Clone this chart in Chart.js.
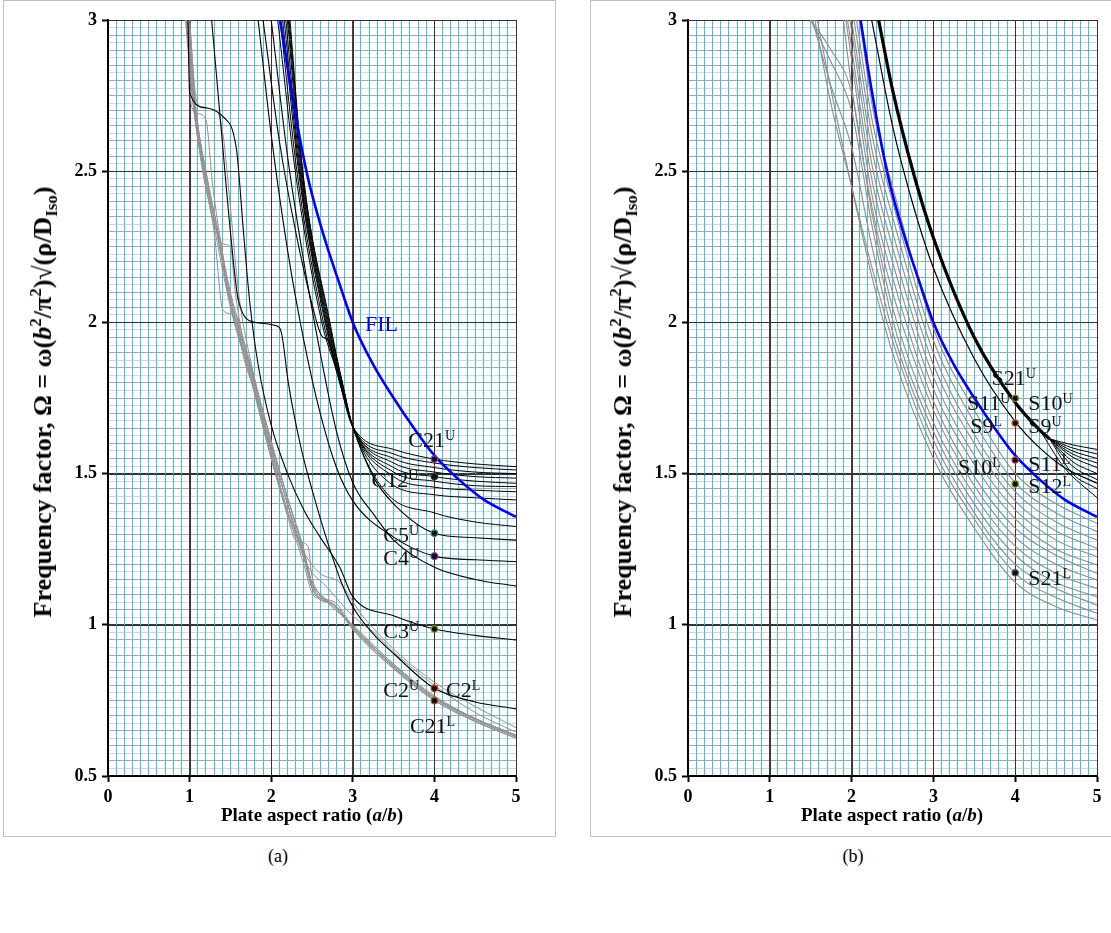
<!DOCTYPE html>
<html>
<head>
<meta charset="utf-8">
<script src="https://cdn.jsdelivr.net/npm/chart.js@4.4.1/dist/chart.umd.min.js"></script>
<style>
  body { margin:0; width:1111px; height:933px; overflow:hidden; background:#fff; font-family:"Liberation Serif","Times New Roman",serif; }
  .box { position:absolute; top:0; height:835px; border:1px solid #bfbfbf; }
  canvas { position:absolute; }
  .ytitle { position:absolute; white-space:nowrap; font-weight:bold; font-size:26px; transform:translate(-50%,-50%) rotate(-90deg); }
  .xtitle { position:absolute; white-space:nowrap; font-weight:bold; font-size:19px; transform:translate(-50%,-50%); }
  .cap { position:absolute; font-size:18px; transform:translate(-50%,-50%); }
  sup, sub { font-size:0.65em; line-height:0; }
</style>
</head>
<body>
<div class="box" style="left:3px;width:551px;"></div>
<div class="box" style="left:590px;width:540px;"></div>
<canvas id="chartA" width="550" height="834" style="left:4px;top:1px;"></canvas>
<canvas id="chartB" width="519" height="834" style="left:591px;top:1px;"></canvas>
<div class="ytitle" style="left:43px;top:402px;">Frequency factor, Ω = ω(<i>b</i><sup>2</sup>/π<sup>2</sup>)√(ρ/D<sub>Iso</sub>)</div>
<div class="ytitle" style="left:623px;top:402px;">Frequency factor, Ω = ω(<i>b</i><sup>2</sup>/π<sup>2</sup>)√(ρ/D<sub>Iso</sub>)</div>
<div class="xtitle" style="left:312px;top:815px;">Plate aspect ratio (<i>a</i>/<i>b</i>)</div>
<div class="xtitle" style="left:892px;top:815px;">Plate aspect ratio (<i>a</i>/<i>b</i>)</div>
<div class="cap" style="left:278px;top:856px;">(a)</div>
<div class="cap" style="left:853px;top:856px;">(b)</div>
<script>
// axis ticks
const xTickLabels = [0, 1, 2, 3, 4, 5];
const yTickLabels = [0.5, 1, 1.5, 2, 2.5, 3];

// FIL curve (same in both panels)
const filPts = [[2.11,3.0],[2.25,2.76],[2.44,2.49],[2.64,2.29],[2.84,2.125],[3.0,2.0],[3.25,1.86],[3.5,1.75],[3.75,1.65],[4.0,1.56],[4.3,1.48],[4.6,1.415],[5.0,1.357]];

// panel (a) black curves
const c2uPts = [[1.27,3.0],[1.4,2.6],[1.5,2.3],[1.6,2.07],[1.8,2.0],[2.09,1.986],[2.13,1.96],[2.21,1.80],[2.37,1.58],[2.54,1.41],[2.66,1.30],[2.86,1.14],[3.0,1.06],[3.25,0.97],[3.5,0.905],[4.0,0.79],[4.5,0.745],[5.0,0.722]];
const c3uPts = [[0.98,3.0],[1.0,2.76],[1.2,2.71],[1.45,2.67],[1.52,2.64],[1.58,2.56],[1.66,2.3],[1.74,2.06],[1.84,1.86],[2.0,1.66],[2.2,1.5],[2.4,1.38],[2.6,1.29],[2.84,1.19],[3.0,1.093],[3.5,1.03],[4.0,0.986],[4.5,0.965],[5.0,0.95]];
const c4uPts = [[1.84,3.0],[2.0,2.62],[2.2,2.24],[2.4,1.94],[2.6,1.7],[2.8,1.52],[3.0,1.41],[3.5,1.29],[4.0,1.227],[4.5,1.215],[5.0,1.209]];
const c5uPts = [[1.9,3.0],[2.1,2.6],[2.3,2.3],[2.5,2.06],[2.62,1.955],[2.7,1.94],[2.8,1.84],[3.0,1.655],[3.25,1.49],[3.5,1.4],[4.0,1.303],[4.5,1.288],[5.0,1.28]];
const c6uPts = [[2.0,3.0],[2.2,2.55],[2.4,2.2],[2.6,1.9],[2.8,1.64],[3.0,1.47],[3.27,1.36],[3.5,1.28],[4.0,1.19],[4.5,1.15],[5.0,1.128]];
const aBundle = [
  [[2.08,3.0],[2.3,2.49],[2.62,2.0],[2.8,1.84],[3.0,1.655],[3.5,1.58],[4.0,1.548],[4.5,1.532],[5.0,1.523]],
  [[2.11,3.0],[2.32,2.49],[2.64,2.0],[2.82,1.83],[3.0,1.655],[3.5,1.565],[4.0,1.535],[4.5,1.52],[5.0,1.512]],
  [[2.14,3.0],[2.34,2.49],[2.66,2.0],[2.83,1.82],[3.0,1.655],[3.5,1.55],[4.0,1.52],[4.5,1.505],[5.0,1.50]],
  [[2.16,3.0],[2.35,2.49],[2.67,2.0],[2.84,1.81],[3.0,1.655],[3.5,1.535],[4.0,1.505],[4.5,1.49],[5.0,1.485]],
  [[2.18,3.0],[2.36,2.49],[2.68,2.0],[2.85,1.81],[3.0,1.655],[3.5,1.52],[4.0,1.49],[4.5,1.475],[5.0,1.468]],
  [[2.2,3.0],[2.37,2.49],[2.69,2.0],[2.86,1.8],[3.0,1.655],[3.5,1.505],[4.0,1.475],[4.5,1.46],[5.0,1.457]],
  [[2.21,3.0],[2.38,2.49],[2.7,2.0],[2.87,1.8],[3.0,1.655],[3.5,1.49],[4.0,1.455],[4.5,1.445],[5.0,1.44]],
  [[2.22,3.0],[2.39,2.49],[2.71,2.0],[2.88,1.79],[3.0,1.655],[3.45,1.47],[4.0,1.43],[4.5,1.42],[5.0,1.413]],
  [[2.23,3.0],[2.39,2.49],[2.72,2.0],[2.88,1.79],[3.0,1.655],[3.4,1.44],[4.0,1.37],[4.5,1.34],[5.0,1.325]]
];
// panel (a) grey curves
const aGray = [
  [[0.97,3.0],[1.05,2.75],[1.19,2.49],[1.33,2.30],[1.5,2.07],[1.75,1.83],[2.0,1.57],[2.2,1.38],[2.43,1.21],[2.54,1.10],[2.78,1.065],[3.0,0.99],[3.27,0.92],[3.5,0.86],[4.0,0.755],[4.5,0.685],[5.0,0.63]],
  [[0.98,3.0],[1.02,2.72],[1.1,2.69],[1.2,2.67],[1.28,2.46],[1.38,2.27],[1.5,2.09],[1.75,1.85],[2.0,1.59],[2.2,1.40],[2.4,1.23],[2.52,1.11],[2.7,1.08],[3.0,0.99],[3.5,0.865],[4.0,0.76],[4.5,0.69],[5.0,0.635]],
  [[1.0,3.0],[1.08,2.74],[1.15,2.71],[1.33,2.70],[1.41,2.62],[1.5,2.38],[1.6,2.1],[1.75,1.87],[2.0,1.61],[2.2,1.42],[2.4,1.25],[2.5,1.13],[2.65,1.09],[3.0,0.995],[3.5,0.87],[4.0,0.76],[4.5,0.69],[5.0,0.635]],
  [[0.96,3.0],[1.03,2.76],[1.15,2.52],[1.3,2.33],[1.41,2.26],[1.5,2.25],[1.56,2.1],[1.65,1.95],[1.8,1.8],[2.0,1.6],[2.2,1.42],[2.4,1.24],[2.5,1.14],[2.6,1.1],[3.0,1.0],[3.5,0.87],[4.0,0.765],[4.5,0.69],[5.0,0.635]],
  [[0.95,3.0],[1.02,2.78],[1.15,2.52],[1.3,2.3],[1.41,2.04],[1.58,2.02],[1.65,1.9],[1.8,1.77],[2.0,1.58],[2.2,1.4],[2.4,1.22],[2.5,1.12],[2.6,1.09],[2.8,1.06],[3.0,0.99],[3.5,0.86],[4.0,0.755],[4.5,0.685],[5.0,0.63]],
  [[0.99,3.0],[1.06,2.74],[1.2,2.5],[1.35,2.3],[1.5,2.08],[1.75,1.84],[2.0,1.58],[2.2,1.4],[2.41,1.215],[2.7,1.12],[3.0,1.03],[3.27,0.972],[3.5,0.91],[4.0,0.80],[4.5,0.71],[5.0,0.645]],
  [[0.97,3.0],[1.04,2.76],[1.18,2.5],[1.33,2.31],[1.5,2.06],[1.75,1.82],[2.0,1.56],[2.2,1.37],[2.4,1.24],[2.6,1.17],[2.84,1.14],[3.09,1.04],[3.5,0.92],[4.0,0.81],[4.5,0.73],[5.0,0.66]],
  [[0.98,3.0],[1.05,2.77],[1.2,2.48],[1.35,2.28],[1.5,2.06],[1.75,1.82],[2.0,1.55],[2.2,1.36],[2.3,1.28],[2.45,1.26],[2.5,1.16],[2.6,1.1],[2.8,1.06],[3.0,0.985],[3.5,0.855],[4.0,0.75],[4.5,0.68],[5.0,0.625]],
  [[0.96,3.0],[1.03,2.77],[1.17,2.5],[1.32,2.29],[1.5,2.05],[1.75,1.81],[2.0,1.55],[2.2,1.37],[2.4,1.2],[2.5,1.105],[2.6,1.085],[2.8,1.06],[3.0,0.985],[3.5,0.855],[4.0,0.75],[4.5,0.68],[5.0,0.625]],
  [[1.0,3.0],[1.07,2.73],[1.22,2.47],[1.37,2.27],[1.5,2.1],[1.75,1.86],[2.0,1.6],[2.2,1.42],[2.4,1.24],[2.48,1.15],[2.58,1.1],[2.8,1.07],[3.0,0.995],[3.5,0.865],[4.0,0.76],[4.5,0.69],[5.0,0.635]]
];
const aDots = [[4,1.548],[4,1.49],[4,1.303],[4,1.227],[4,0.986],[4,0.79],[4,0.749]];
const aDotColors = ['#7a3fa0','#333333','#2e8b8b','#5b3a8a','#7a9a2a','#c0392b','#a0522d'];

// panel (b)
const bThick = [[2.33,3.0],[2.5,2.77],[2.75,2.5],[3.0,2.28],[3.5,1.95],[4.0,1.735],[4.3,1.644],[4.42,1.615]];
const bFan = [
  [[4.42,1.615],[4.7,1.595],[5.0,1.58]],
  [[4.42,1.615],[4.7,1.585],[5.0,1.565]],
  [[4.42,1.615],[4.7,1.575],[5.0,1.55]],
  [[4.42,1.615],[4.7,1.565],[5.0,1.535]],
  [[4.42,1.615],[4.7,1.555],[5.0,1.52]],
  [[4.42,1.615],[4.7,1.54],[5.0,1.50]],
  [[4.42,1.615],[4.7,1.525],[5.0,1.48]],
  [[4.42,1.615],[4.7,1.50],[5.0,1.45]],
  [[4.3,1.644],[4.6,1.52],[5.0,1.42]]
];
const bThin = [[2.245,3.0],[2.5,2.65],[2.75,2.39],[3.0,2.18],[3.5,1.88],[4.0,1.672],[4.3,1.585],[4.6,1.52],[5.0,1.468]];
const bGray = [
  [[2.1,3.0],[2.25,2.72],[2.5,2.45],[3.0,1.98],[3.5,1.71],[4.0,1.50],[4.5,1.40],[5.0,1.336]],
  [[2.06,3.0],[2.25,2.67],[2.5,2.40],[3.0,1.94],[3.5,1.67],[4.0,1.47],[4.5,1.37],[5.0,1.308]],
  [[2.03,3.0],[2.25,2.62],[2.5,2.35],[3.0,1.90],[3.5,1.63],[4.0,1.44],[4.5,1.34],[5.0,1.28]],
  [[2.0,3.0],[2.25,2.57],[2.5,2.30],[3.0,1.86],[3.5,1.60],[4.0,1.41],[4.5,1.31],[5.0,1.253]],
  [[1.98,3.0],[2.25,2.52],[2.5,2.25],[3.0,1.82],[3.5,1.56],[4.0,1.38],[4.5,1.28],[5.0,1.225]],
  [[1.95,3.0],[2.25,2.47],[2.5,2.20],[3.0,1.78],[3.5,1.53],[4.0,1.35],[4.5,1.25],[5.0,1.198]],
  [[1.93,3.0],[2.25,2.42],[2.5,2.15],[3.0,1.74],[3.5,1.49],[4.0,1.32],[4.5,1.23],[5.0,1.17]],
  [[1.9,3.0],[2.0,2.78],[2.25,2.38],[2.5,2.10],[3.0,1.71],[3.5,1.46],[4.0,1.29],[4.5,1.20],[5.0,1.148]],
  [[1.5,3.0],[1.75,2.9],[2.0,2.76],[2.25,2.36],[2.5,2.05],[3.0,1.67],[3.5,1.43],[4.0,1.26],[4.5,1.17],[5.0,1.12]],
  [[1.5,3.0],[1.75,2.86],[2.0,2.70],[2.25,2.32],[2.5,2.01],[3.0,1.64],[3.5,1.40],[4.0,1.23],[4.5,1.14],[5.0,1.093]],
  [[1.52,3.0],[1.75,2.78],[2.0,2.58],[2.25,2.25],[2.5,1.97],[3.0,1.61],[3.5,1.37],[4.0,1.20],[4.5,1.12],[5.0,1.065]],
  [[1.55,3.0],[1.75,2.72],[2.0,2.45],[2.25,2.18],[2.5,1.94],[3.0,1.58],[3.5,1.35],[4.0,1.17],[4.5,1.09],[5.0,1.038]],
  [[1.58,3.0],[1.8,2.7],[2.0,2.45],[2.25,2.15],[2.5,1.90],[3.0,1.55],[3.5,1.32],[4.0,1.14],[4.5,1.06],[5.0,1.016]]
];
const bDots = [[4,1.749],[4,1.667],[4,1.545],[4,1.466],[4,1.172]];
const bDotColors = ['#7a9a2a','#d0602a','#c0504d','#7a9a2a','#556080'];

// text labels (data coordinates of the text baseline start)
const aLabels = [
  {text:'C21', sup:'U', x:3.68, y:1.589}, {text:'C12', sup:'U', x:3.23, y:1.457},
  {text:'C5', sup:'U', x:3.374, y:1.275}, {text:'C4', sup:'U', x:3.374, y:1.198},
  {text:'C3', sup:'U', x:3.374, y:0.955}, {text:'C2', sup:'U', x:3.374, y:0.762},
  {text:'C2', sup:'L', x:4.142, y:0.762}, {text:'C21', sup:'L', x:3.70, y:0.642},
  {text:'FIL', sup:'', x:3.15, y:1.97, color:'#0000ff'}
];
const bLabels = [
  {text:'S21', sup:'U', x:3.71, y:1.793}, {text:'S11', sup:'U', x:3.41, y:1.71},
  {text:'S10', sup:'U', x:4.16, y:1.71}, {text:'S9', sup:'L', x:3.45, y:1.633},
  {text:'S9', sup:'U', x:4.16, y:1.633}, {text:'S10', sup:'L', x:3.30, y:1.50},
  {text:'S11', sup:'L', x:4.16, y:1.51}, {text:'S12', sup:'L', x:4.16, y:1.435},
  {text:'S21', sup:'L', x:4.16, y:1.132}
];

const SERIF = '"Liberation Serif", "Times New Roman", serif';

function lineDs(pts, color, width, order) {
  return { type:'line', data: pts.map(p => ({x:p[0], y:p[1]})), borderColor: color, borderWidth: width,
           pointRadius: 0, cubicInterpolationMode: 'monotone', fill: false, order: order };
}
function dotDs(pts, colors) {
  return { type:'line', showLine:false, data: pts.map(p => ({x:p[0], y:p[1]})), pointRadius: 3.2,
           pointBackgroundColor: '#111', pointBorderColor: colors, pointBorderWidth: 1.2, order: 0 };
}

const labelPlugin = {
  id: 'ptLabels',
  afterDatasetsDraw(chart, args, opts) {
    const ctx = chart.ctx, sx = chart.scales.x, sy = chart.scales.y;
    ctx.save();
    ctx.textAlign = 'left';
    ctx.textBaseline = 'alphabetic';
    (opts.items || []).forEach(it => {
      const px = sx.getPixelForValue(it.x), py = sy.getPixelForValue(it.y);
      ctx.fillStyle = it.color || '#111';
      ctx.font = '22px ' + SERIF;
      ctx.fillText(it.text, px, py);
      if (it.sup) {
        const w = ctx.measureText(it.text).width;
        ctx.font = '14px ' + SERIF;
        ctx.fillText(it.sup, px + w, py - 7);
      }
    });
    ctx.restore();
  }
};

const majorPlugin = {
  id: 'majorGrid',
  beforeDatasetsDraw(chart) {
    const ctx = chart.ctx, a = chart.chartArea, sx = chart.scales.x, sy = chart.scales.y;
    ctx.save();
    ctx.lineWidth = 1;
    ctx.strokeStyle = '#333';
    yTickLabels.forEach(v => {
      if (v <= 0.5) return;
      const py = Math.round(sy.getPixelForValue(v)) + 0.5;
      ctx.beginPath(); ctx.moveTo(a.left, py); ctx.lineTo(a.right, py); ctx.stroke();
    });
    xTickLabels.forEach(v => {
      if (v <= 0) return;
      const px = Math.round(sx.getPixelForValue(v)) + 0.5;
      ctx.beginPath(); ctx.moveTo(px, a.top); ctx.lineTo(px, a.bottom); ctx.stroke();
    });
    ctx.restore();
  }
};

const xGrid = [];
for (let i = 0; i <= 50; i++) xGrid.push(i / 10);
const yGrid = [];
for (let i = 20; i <= 120; i++) yGrid.push(i / 40);

const isInt = v => Math.abs(v - Math.round(v)) < 1e-9;
const isHalf = v => Math.abs(v * 2 - Math.round(v * 2)) < 1e-9;
const isTwentieth = v => Math.abs(v * 20 - Math.round(v * 20)) < 1e-9;

function makeOptions(yWidth, padRight, labels) {
  return {
    responsive: false,
    animation: false,
    events: [],
    layout: { padding: { top: 19, right: padRight, left: 0, bottom: 0 } },
    plugins: { legend: { display: false }, tooltip: { enabled: false }, ptLabels: { items: labels } },
    scales: {
      x: {
        type: 'linear', min: 0, max: 5,
        afterBuildTicks: s => { s.ticks = xGrid.map(v => ({ value: v })); },
        afterFit: s => { s.height = 59; },
        ticks: {
          autoSkip: false, maxRotation: 0, padding: 5,
          color: '#000', font: { family: SERIF, size: 18, weight: 'bold' },
          callback: v => xTickLabels.includes(v) ? String(v) : ''
        },
        grid: {
          z: -1,
          color: c => isInt(c.tick.value) ? '#444' : '#3cc0ec',
          lineWidth: 1,
          drawTicks: true, tickLength: 6, tickWidth: 2,
          tickColor: c => isInt(c.tick.value) ? '#000' : 'rgba(0,0,0,0)'
        },
        border: { display: true, color: '#000', width: 2 }
      },
      y: {
        type: 'linear', min: 0.5, max: 3,
        afterBuildTicks: s => { s.ticks = yGrid.map(v => ({ value: v })); },
        afterFit: s => { s.width = yWidth; },
        ticks: {
          autoSkip: false, padding: 5,
          color: '#000', font: { family: SERIF, size: 18, weight: 'bold' },
          callback: v => yTickLabels.includes(v) ? String(v) : ''
        },
        grid: {
          z: -2,
          color: c => isHalf(c.tick.value) ? '#333' : (isTwentieth(c.tick.value) ? '#a8a8a8' : '#d6d6d6'),
          lineWidth: 1,
          drawTicks: true, tickLength: 6, tickWidth: 2,
          tickColor: c => isHalf(c.tick.value) ? '#000' : 'rgba(0,0,0,0)'
        },
        border: { display: true, color: '#000', width: 2 }
      }
    }
  };
}

// panel (a)
const dsA = [];
aGray.forEach(p => dsA.push(lineDs(p, '#919191', 1, 4)));
aBundle.forEach(p => dsA.push(lineDs(p, '#000', 1, 3)));
[c2uPts, c3uPts, c4uPts, c5uPts, c6uPts].forEach(p => dsA.push(lineDs(p, '#000', 1.1, 3)));
dsA.push(lineDs(filPts, '#0000ff', 2.6, 1));
dsA.push(dotDs(aDots, aDotColors));

new Chart(document.getElementById('chartA'), {
  type: 'line',
  data: { datasets: dsA },
  options: makeOptions(104, 38, aLabels),
  plugins: [majorPlugin, labelPlugin]
});

// panel (b)
const dsB = [];
bGray.forEach(p => dsB.push(lineDs(p, '#8c8c8c', 1.1, 4)));
bFan.forEach(p => dsB.push(lineDs(p, '#000', 1, 3)));
dsB.push(lineDs(bThin, '#000', 1.2, 3));
dsB.push(lineDs(filPts, '#0000ff', 2.6, 2));
dsB.push(lineDs(bThick, '#000', 3.2, 1));
dsB.push(dotDs(bDots, bDotColors));

new Chart(document.getElementById('chartB'), {
  type: 'line',
  data: { datasets: dsB },
  options: makeOptions(97, 13, bLabels),
  plugins: [majorPlugin, labelPlugin]
});
</script>
</body>
</html>
